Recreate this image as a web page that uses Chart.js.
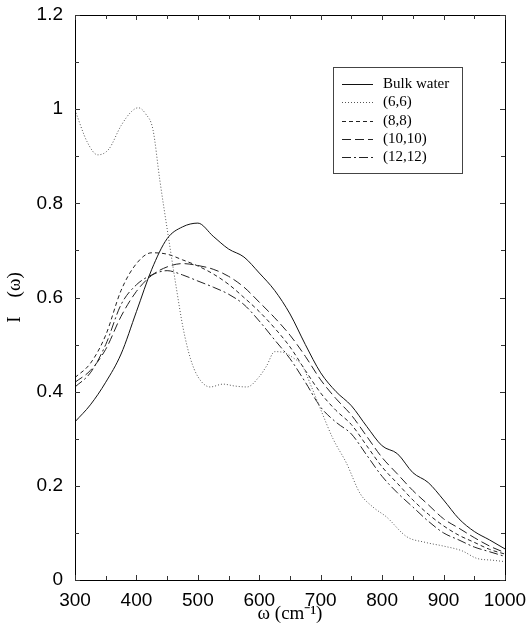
<!DOCTYPE html>
<html>
<head>
<meta charset="utf-8">
<script src="https://cdn.jsdelivr.net/npm/chart.js@4/dist/chart.umd.min.js"></script>
<style>
  html, body { margin: 0; padding: 0; background: #fff; }
  canvas { display: block; }
</style>
</head>
<body>
<canvas id="c" width="527" height="634"></canvas>
<script>
// ---- data ----
const freqGrid = [300,325,350,375,400,425,450,475,500,525,550,575,600,625,650,675,700,725,750,775,800,825,850,875,900,925,950,975,1000];
const bulkWater = [0.336,0.372,0.42,0.48,0.57,0.66,0.725,0.75,0.758,0.73,0.703,0.686,0.652,0.615,0.565,0.50,0.44,0.40,0.37,0.326,0.285,0.268,0.228,0.207,0.17,0.13,0.103,0.085,0.066];
const tube88 = [0.43,0.46,0.52,0.615,0.672,0.695,0.692,0.68,0.667,0.65,0.628,0.6,0.57,0.535,0.495,0.445,0.397,0.36,0.33,0.285,0.24,0.205,0.17,0.14,0.115,0.095,0.08,0.065,0.055];
const tube1010 = [0.42,0.445,0.49,0.56,0.613,0.647,0.665,0.672,0.668,0.66,0.645,0.622,0.59,0.557,0.52,0.475,0.425,0.385,0.35,0.305,0.26,0.225,0.19,0.16,0.13,0.11,0.09,0.072,0.058];
const tube1212 = [0.41,0.44,0.50,0.585,0.627,0.648,0.657,0.648,0.635,0.622,0.607,0.585,0.55,0.51,0.47,0.42,0.367,0.335,0.31,0.265,0.22,0.185,0.155,0.125,0.10,0.085,0.07,0.06,0.05];
const tube66Freq = [300,320,337,355,375,392,403,415,427,438,452,465,476,488,500,520,541,560,580,600,612,625,640,655,670,685,700,720,742,764,785,807,840,870,900,930,954,980,1000];
const tube66 = [0.998,0.93,0.903,0.915,0.965,0.995,1.003,0.99,0.956,0.85,0.729,0.62,0.535,0.47,0.432,0.41,0.416,0.412,0.41,0.432,0.455,0.485,0.483,0.472,0.455,0.41,0.362,0.30,0.248,0.184,0.155,0.134,0.092,0.08,0.072,0.062,0.046,0.042,0.039];
const seriesLabels = ['Bulk water','(6,6)','(8,8)','(10,10)','(12,12)'];
const xTickLabels = ['300','400','500','600','700','800','900','1000'];
const yTickLabels = ['0','0.2','0.4','0.6','0.8','1','1.2'];

const toXY = (xs, ys) => xs.map((x, i) => ({x: x, y: ys[i]}));

const styles = [
  {color: '#111', dash: []},
  {color: '#555', dash: [1, 2]},
  {color: '#222', dash: [4, 3]},
  {color: '#222', dash: [9, 4]},
  {color: '#222', dash: [9, 3, 2, 3]}
];
const seriesData = [
  toXY(freqGrid, bulkWater),
  toXY(tube66Freq, tube66),
  toXY(freqGrid, tube88),
  toXY(freqGrid, tube1010),
  toXY(freqGrid, tube1212)
];

const datasets = seriesLabels.map((lab, i) => ({
  label: lab,
  data: seriesData[i],
  borderColor: styles[i].color,
  borderDash: styles[i].dash,
  borderWidth: 1,
  pointRadius: 0,
  fill: false,
  cubicInterpolationMode: 'monotone'
}));

// frame, inward ticks on all four sides, and the boxed legend
const framePlugin = {
  id: 'frame',
  afterDraw(chart) {
    const ctx = chart.ctx;
    const a = chart.chartArea;
    const xs = chart.scales.x, ys = chart.scales.y;
    ctx.save();
    ctx.strokeStyle = '#000';
    ctx.lineWidth = 1;
    ctx.setLineDash([]);
    ctx.strokeRect(Math.round(a.left) + 0.5, Math.round(a.top) + 0.5, Math.round(a.right - a.left), Math.round(a.bottom - a.top));
    ctx.strokeStyle = '#333';
    ctx.beginPath();
    for (let v = 300; v <= 1000; v += 50) {
      const px = Math.round(xs.getPixelForValue(v)) + 0.5;
      const len = (v % 100 === 0) ? 5 : 4;
      ctx.moveTo(px, a.bottom); ctx.lineTo(px, a.bottom - len);
      ctx.moveTo(px, a.top); ctx.lineTo(px, a.top + len);
    }
    for (let k = 0; k <= 12; k++) {
      const v = k / 10;
      const py = Math.round(ys.getPixelForValue(v)) + 0.5;
      const len = (k % 2 === 0) ? 5 : 4;
      ctx.moveTo(a.left, py); ctx.lineTo(a.left + len, py);
      ctx.moveTo(a.right, py); ctx.lineTo(a.right - len, py);
    }
    ctx.stroke();

    // legend box
    const bx = 333, by = 67, bw = 129, bh = 106;
    ctx.strokeStyle = '#444';
    ctx.strokeRect(bx + 0.5, by + 0.5, bw, bh);
    ctx.font = '15px "Liberation Serif", "Times New Roman", serif';
    ctx.fillStyle = '#000';
    ctx.textBaseline = 'middle';
    chart.data.datasets.forEach((ds, i) => {
      const y = Math.round(84 + i * 18.3) + 0.5;
      ctx.strokeStyle = ds.borderColor;
      ctx.setLineDash(ds.borderDash);
      ctx.beginPath();
      ctx.moveTo(342, y); ctx.lineTo(373, y);
      ctx.stroke();
      ctx.setLineDash([]);
      ctx.fillText(ds.label, 383, y);
    });
    ctx.restore();
  }
};

const zeroPad = (scale) => {
  scale.paddingLeft = 0; scale.paddingRight = 0;
  scale.paddingTop = 0; scale.paddingBottom = 0;
};

new Chart(document.getElementById('c'), {
  type: 'line',
  data: { datasets: datasets },
  options: {
    responsive: false,
    animation: false,
    devicePixelRatio: 1,
    layout: { padding: { left: 0, top: 15, right: 22, bottom: 0 } },
    plugins: { legend: { display: false }, tooltip: { enabled: false } },
    scales: {
      x: {
        type: 'linear', min: 300, max: 1000,
        grid: { display: false, drawTicks: false },
        border: { display: false },
        afterBuildTicks(scale) {
          scale.ticks = xTickLabels.map(t => ({ value: Number(t) }));
        },
        ticks: {
          padding: 9,
          color: '#000',
          maxRotation: 0,
          autoSkip: false,
          font: { family: '"Liberation Sans", Arial, sans-serif', size: 19 },
          callback: (v) => xTickLabels.find(t => Number(t) === v) ?? ''
        },
        title: {
          display: true,
          text: 'ω (cm⁻¹)',
          color: '#000',
          font: { family: '"Liberation Serif", "Times New Roman", serif', size: 19 },
          padding: { top: 0, bottom: 9 }
        },
        afterFit(scale) { scale.height = 54; zeroPad(scale); }
      },
      y: {
        type: 'linear', min: 0, max: 1.2,
        grid: { display: false, drawTicks: false },
        border: { display: false },
        afterBuildTicks(scale) {
          scale.ticks = yTickLabels.map(t => ({ value: Number(t) }));
        },
        ticks: {
          padding: 12,
          color: '#000',
          autoSkip: false,
          font: { family: '"Liberation Sans", Arial, sans-serif', size: 19 },
          callback: (v) => yTickLabels.find(t => Math.abs(Number(t) - v) < 1e-9) ?? ''
        },
        title: {
          display: true,
          text: 'I\u2003(ω)',
          color: '#000',
          font: { family: '"Liberation Serif", "Times New Roman", serif', size: 19 },
          padding: { top: 4, bottom: 0 }
        },
        afterFit(scale) { scale.width = 75; zeroPad(scale); }
      }
    }
  },
  plugins: [framePlugin]
});
</script>
</body>
</html>
